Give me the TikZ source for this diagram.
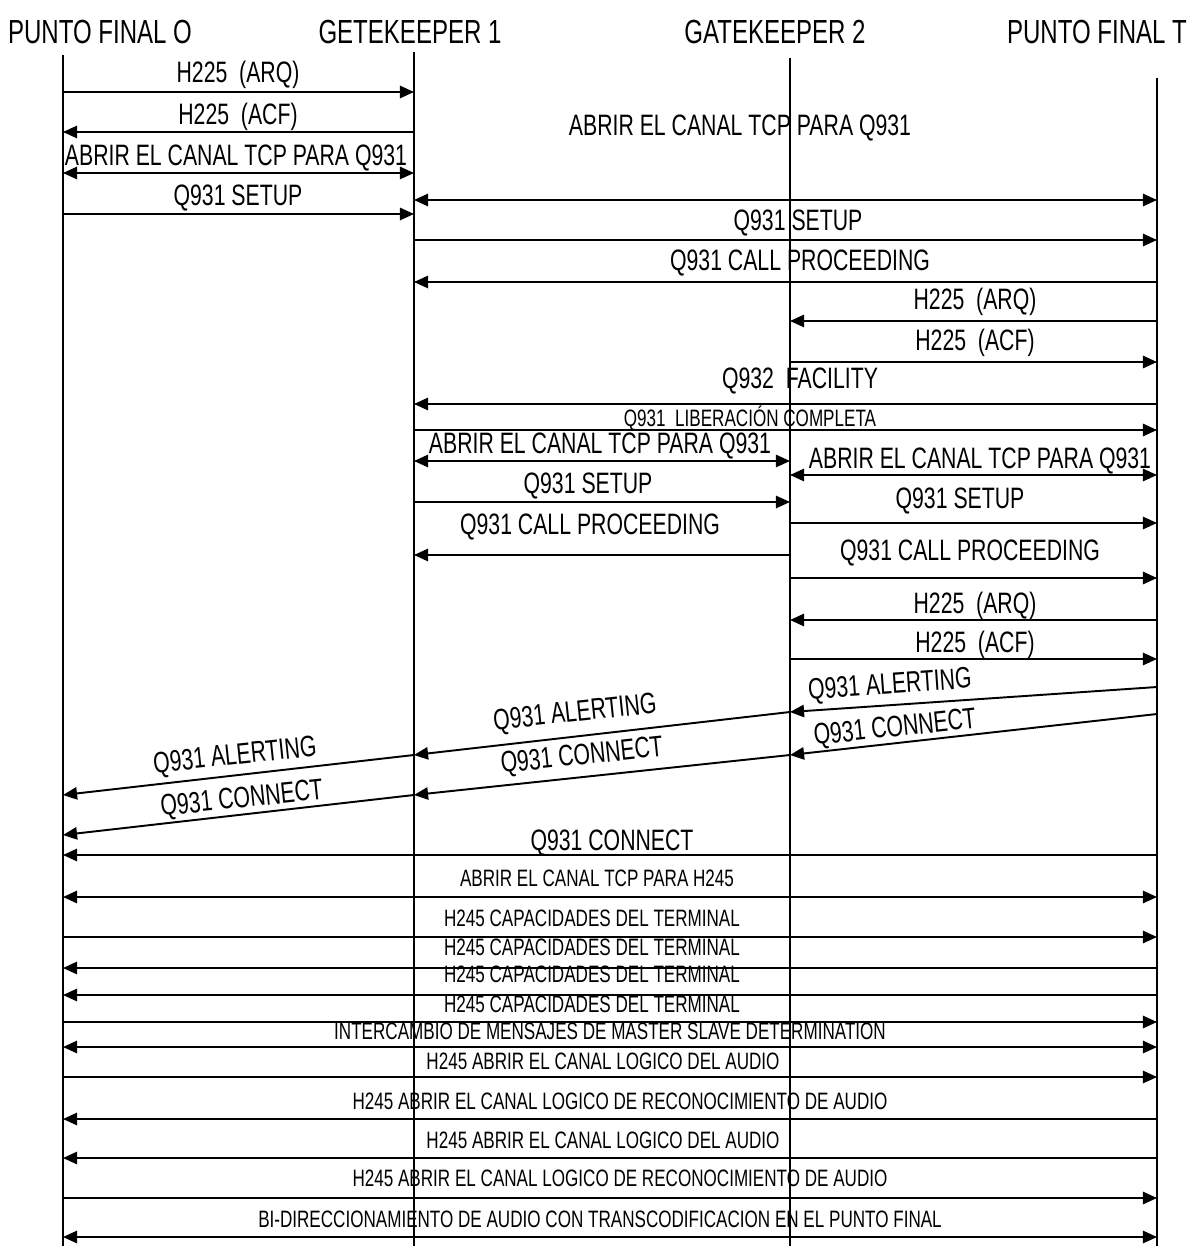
\documentclass[tikz,border=0pt]{standalone}
\usepackage{fontspec}
\setmainfont{Liberation Sans}[FakeStretch=0.72]
\usetikzlibrary{arrows.meta}

\begin{document}
\begin{tikzpicture}[x=0.02cm, y=-0.02cm, >={Triangle[length=8pt,width=7pt]},
    life/.style={line width=0.7pt},
    msg/.style={line width=1.1pt},
    hdr/.style={font=\fontsize{19}{22}\selectfont},
    lbl/.style={font=\fontsize{16.8}{19}\selectfont, inner sep=1pt},
    slbl/.style={font=\fontsize{13.5}{16}\selectfont, inner sep=1pt},
    tilt/.style={lbl, inner sep=0pt, rotate=#1}]
  \useasboundingbox (0,0) rectangle (1196,1246);
  % entidades
  \node[hdr] (hO) at (100,32) {PUNTO FINAL O};
  \node[hdr] (hG1) at (410,32) {GETEKEEPER 1};
  \node[hdr] (hG2) at (775,32) {GATEKEEPER 2};
  \node[hdr] (hT) at (1097,32) {PUNTO FINAL T};
  \coordinate (O) at (63,55);
  \coordinate (G1) at (414,52);
  \coordinate (G2) at (790,58);
  \coordinate (T) at (1157,78);
  \foreach \n in {O,G1,G2,T}
    \draw[life] (\n) -- (\n |- 0,1246);

  % registro y canal TCP
  \draw[msg,->] (O |- 0,92) -- (G1 |- 0,92);
  \node[lbl] (m1) at (238,75) {H225\ \ (ARQ)};
  \draw[msg,->] (G1 |- 0,132) -- (O |- 0,132);
  \node[lbl] (m2) at (238,117) {H225\ \ (ACF)};
  \draw[msg,<->] (O |- 0,173) -- (G1 |- 0,173);
  \node[lbl] (m3) at (236,158) {ABRIR EL CANAL TCP PARA Q931};
  \draw[msg,->] (O |- 0,214) -- (G1 |- 0,214);
  \node[lbl] (m4) at (238,198) {Q931 SETUP};
  \draw[msg,<->] (G1 |- 0,200) -- (T |- 0,200);
  \node[lbl] (m5) at (740,128) {ABRIR EL CANAL TCP PARA Q931};
  \draw[msg,->] (G1 |- 0,240) -- (T |- 0,240);
  \node[lbl] (m6) at (798,223) {Q931 SETUP};
  \draw[msg,->] (T |- 0,282) -- (G1 |- 0,282);
  \node[lbl] (m7) at (800,263) {Q931 CALL PROCEEDING};
  \draw[msg,->] (T |- 0,321) -- (G2 |- 0,321);
  \node[lbl] (m8) at (975,302) {H225\ \ (ARQ)};
  \draw[msg,->] (G2 |- 0,362) -- (T |- 0,362);
  \node[lbl] (m9) at (975,343) {H225\ \ (ACF)};
  \draw[msg,->] (T |- 0,404) -- (G1 |- 0,404);
  \node[lbl] (m10) at (800,381) {Q932\ \ FACILITY};
  \draw[msg,->] (G1 |- 0,430) -- (T |- 0,430);
  \node[slbl] (m11) at (750,418) {Q931\ \ LIBERACIÓN COMPLETA};

  % segunda llamada por los gatekeepers
  \draw[msg,<->] (G1 |- 0,461) -- (G2 |- 0,461);
  \node[lbl] (m12) at (600,446) {ABRIR EL CANAL TCP PARA Q931};
  \draw[msg,<->] (G2 |- 0,475) -- (T |- 0,475);
  \node[lbl] (m13) at (980,461) {ABRIR EL CANAL TCP PARA Q931};
  \draw[msg,->] (G1 |- 0,502) -- (G2 |- 0,502);
  \node[lbl] (m14) at (588,486) {Q931 SETUP};
  \draw[msg,->] (G2 |- 0,523) -- (T |- 0,523);
  \node[lbl] (m15) at (960,501) {Q931 SETUP};
  \draw[msg,->] (G2 |- 0,555) -- (G1 |- 0,555);
  \node[lbl] (m16) at (590,527) {Q931 CALL PROCEEDING};
  \draw[msg,->] (G2 |- 0,578) -- (T |- 0,578);
  \node[lbl] (m17) at (970,553) {Q931 CALL PROCEEDING};
  \draw[msg,->] (T |- 0,620) -- (G2 |- 0,620);
  \node[lbl] (m18) at (975,606) {H225\ \ (ARQ)};
  \draw[msg,->] (G2 |- 0,659) -- (T |- 0,659);
  \node[lbl] (m19) at (975,645) {H225\ \ (ACF)};

  % alerting y connect
  \draw[msg,->] (T |- 0,687) -- (G2 |- 0,712);
  \node[tilt=4] (m20) at (890,686) {Q931 ALERTING};
  \draw[msg,->] (T |- 0,714) -- (G2 |- 0,755);
  \node[tilt=6] (m21) at (895,729) {Q931 CONNECT};
  \draw[msg,->] (G2 |- 0,712) -- (G1 |- 0,755);
  \node[tilt=6] (m22) at (575,714) {Q931 ALERTING};
  \draw[msg,->] (G2 |- 0,755) -- (G1 |- 0,795);
  \node[tilt=6] (m23) at (582,757) {Q931 CONNECT};
  \draw[msg,->] (G1 |- 0,755) -- (O |- 0,795);
  \node[tilt=6] (m24) at (235,757) {Q931 ALERTING};
  \draw[msg,->] (G1 |- 0,795) -- (O |- 0,835);
  \node[tilt=6] (m25) at (242,800) {Q931 CONNECT};
  \draw[msg,->] (T |- 0,855) -- (O |- 0,855);
  \node[lbl] (m26) at (612,843) {Q931 CONNECT};

  % H245
  \draw[msg,<->] (O |- 0,897) -- (T |- 0,897);
  \node[slbl] (m27) at (597,878) {ABRIR EL CANAL TCP PARA H245};
  \draw[msg,->] (O |- 0,937) -- (T |- 0,937);
  \node[slbl] (m28) at (592,918) {H245 CAPACIDADES DEL TERMINAL};
  \draw[msg,->] (T |- 0,968) -- (O |- 0,968);
  \node[slbl] (m29) at (592,947) {H245 CAPACIDADES DEL TERMINAL};
  \draw[msg,->] (T |- 0,995) -- (O |- 0,995);
  \node[slbl] (m30) at (592,974) {H245 CAPACIDADES DEL TERMINAL};
  \draw[msg,->] (O |- 0,1022) -- (T |- 0,1022);
  \node[slbl] (m31) at (592,1004) {H245 CAPACIDADES DEL TERMINAL};
  \draw[msg,<->] (O |- 0,1047) -- (T |- 0,1047);
  \node[slbl] (m32) at (610,1031) {INTERCAMBIO DE MENSAJES DE MASTER SLAVE DETERMINATION};
  \draw[msg,->] (O |- 0,1077) -- (T |- 0,1077);
  \node[slbl] (m33) at (603,1061) {H245 ABRIR EL CANAL LOGICO DEL AUDIO};
  \draw[msg,->] (T |- 0,1119) -- (O |- 0,1119);
  \node[slbl] (m34) at (620,1101) {H245 ABRIR EL CANAL LOGICO DE RECONOCIMIENTO DE AUDIO};
  \draw[msg,->] (T |- 0,1158) -- (O |- 0,1158);
  \node[slbl] (m35) at (603,1140) {H245 ABRIR EL CANAL LOGICO DEL AUDIO};
  \draw[msg,->] (O |- 0,1198) -- (T |- 0,1198);
  \node[slbl] (m36) at (620,1178) {H245 ABRIR EL CANAL LOGICO DE RECONOCIMIENTO DE AUDIO};
  \draw[msg,<->] (O |- 0,1237) -- (T |- 0,1237);
  \node[slbl] (m37) at (600,1219) {BI-DIRECCIONAMIENTO DE AUDIO CON TRANSCODIFICACION EN EL PUNTO FINAL};
\end{tikzpicture}
\end{document}
